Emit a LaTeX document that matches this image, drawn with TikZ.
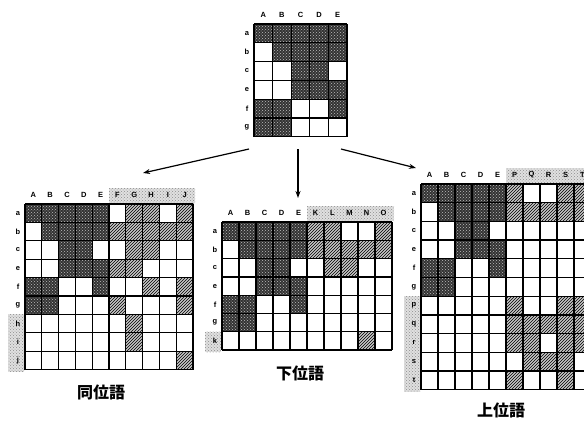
\documentclass[tikz,border=0pt]{standalone}
\usepackage{fontspec}
\newfontfamily\cjk{Noto Sans CJK JP}
\setsansfont{Liberation Sans}
\usetikzlibrary{patterns,arrows.meta}
\tikzset{
  celld/.style={fill=black!80,postaction={pattern=crosshatch dots,pattern color=white!75!black}},
  cellh/.style={fill=black!22,postaction={pattern=north east lines,pattern color=black}},
  cello/.style={fill=white},
  gl/.style={line width=1.3pt,black},
  stip/.style={fill=black!12,postaction={pattern=crosshatch dots,pattern color=black!45}},
  lab/.style={font=\sffamily\bfseries\fontsize{7.5}{8}\selectfont,inner sep=0pt},
  jlab/.style={font=\cjk\bfseries\fontsize{16}{18}\selectfont,inner sep=0pt},
  arr/.style={-{Stealth[length=7pt,width=5pt]},line width=1.2pt}
}
% #1 cw, #2 rh, #3 rows data, #4 col labels, #5 row labels, #6 ncols, #7 nrows
\newcommand{\mymatrix}[7]{%
  \foreach \row [count=\r from 0] in {#3}{%
    \foreach \t [count=\c from 0] in \row {%
      \path[cell\t] (\c*#1,\r*#2) rectangle ++(#1,#2);
    }%
  }%
  \foreach \i in {0,...,#6}{\draw[gl] (\i*#1,0) -- (\i*#1,#7*#2);}%
  \foreach \j in {0,...,#7}{\draw[gl] (0,\j*#2) -- (#6*#1,\j*#2);}%
  \foreach \l [count=\c from 0] in {#4}{\node[lab] at (\c*#1+0.5*#1,-9) {\l};}%
  \foreach \l [count=\r from 0] in {#5}{\node[lab] at (-7,\r*#2+0.5*#2) {\l};}%
}
\begin{document}
\begin{tikzpicture}[x=1pt,y=-1pt]
\useasboundingbox (0,0) rectangle (584,421);
\clip (0,0) rectangle (584,421);
\fill[white] (0,0) rectangle (584,421);

% top matrix
\begin{scope}[shift={(254,24)}]
\mymatrix{18.6}{18.8}{{d,d,d,d,d},{o,d,d,d,d},{o,o,d,d,o},{o,o,d,d,d},{d,d,o,o,d},{d,d,o,o,o}}{A,B,C,D,E}{a,b,c,e,f,g}{5}{6}
\end{scope}

% left matrix
\begin{scope}[shift={(25,204)}]
\path[stip] (5*16.8,-16) rectangle (10*16.8+2,-1);
\path[stip] (-17,6*18.4) rectangle (-1,9*18.4+2);
\mymatrix{16.8}{18.4}{{d,d,d,d,d,o,h,h,o,h},{o,d,d,d,d,h,h,h,h,h},{o,o,d,d,o,o,h,h,o,o},{o,o,d,d,d,h,h,o,o,o},{d,d,o,o,d,o,o,h,o,h},{d,d,o,o,o,h,o,o,o,h},{o,o,o,o,o,o,h,o,o,o},{o,o,o,o,o,o,h,o,o,o},{o,o,o,o,o,o,o,o,o,h}}{A,B,C,D,E,F,G,H,I,J}{a,b,c,e,f,g,h,i,j}{10}{9}
\end{scope}

% middle matrix
\begin{scope}[shift={(222,222)}]
\path[stip] (5*17,-16) rectangle (10*17+2,-1);
\path[stip] (-17,6*18.3) rectangle (-1,7*18.3+2);
\mymatrix{17}{18.3}{{d,d,d,d,d,h,h,o,o,h},{o,d,d,d,d,h,h,h,h,h},{o,o,d,d,o,o,h,h,o,o},{o,o,d,d,d,o,o,o,o,o},{d,d,o,o,d,o,o,o,o,o},{d,d,o,o,o,o,o,o,o,o},{o,o,o,o,o,o,o,o,h,o}}{A,B,C,D,E,K,L,M,N,O}{a,b,c,e,f,g,k}{10}{7}
\end{scope}

% right matrix
\begin{scope}[shift={(421,184)}]
\path[stip] (5*17,-16) rectangle (10*17+2,-1);
\path[stip] (-17,6*18.7) rectangle (-1,11*18.7+2);
\mymatrix{17}{18.7}{{d,d,d,d,d,h,o,o,h,h},{o,d,d,d,d,h,h,h,h,h},{o,o,d,d,o,o,o,o,o,o},{o,o,d,d,d,o,o,o,o,o},{d,d,o,o,d,o,o,o,o,o},{d,d,o,o,o,o,o,o,o,o},{o,o,o,o,o,h,o,o,h,h},{o,o,o,o,o,h,h,h,h,h},{o,o,o,o,o,h,h,o,h,h},{o,o,o,o,o,o,h,h,h,o},{o,o,o,o,o,h,o,o,h,o}}{A,B,C,D,E,P,Q,R,S,T}{a,b,c,e,f,g,p,q,r,s,t}{10}{11}
\end{scope}

% arrows
\coordinate (s1) at (249,149);
\coordinate (e1) at (143,173);
\coordinate (s2) at (298,149);
\coordinate (e2) at (298,198);
\coordinate (s3) at (341,149);
\coordinate (e3) at (416,168);
\draw[arr] (s1) -- (e1);
\draw[arr] (s2) -- (e2);
\draw[arr] (s3) -- (e3);

% labels
\node[jlab] (l1) at (101,392) {同位語};
\node[jlab] (l2) at (300,373) {下位語};
\node[jlab] (l3) at (501,410) {上位語};
\end{tikzpicture}
\end{document}
